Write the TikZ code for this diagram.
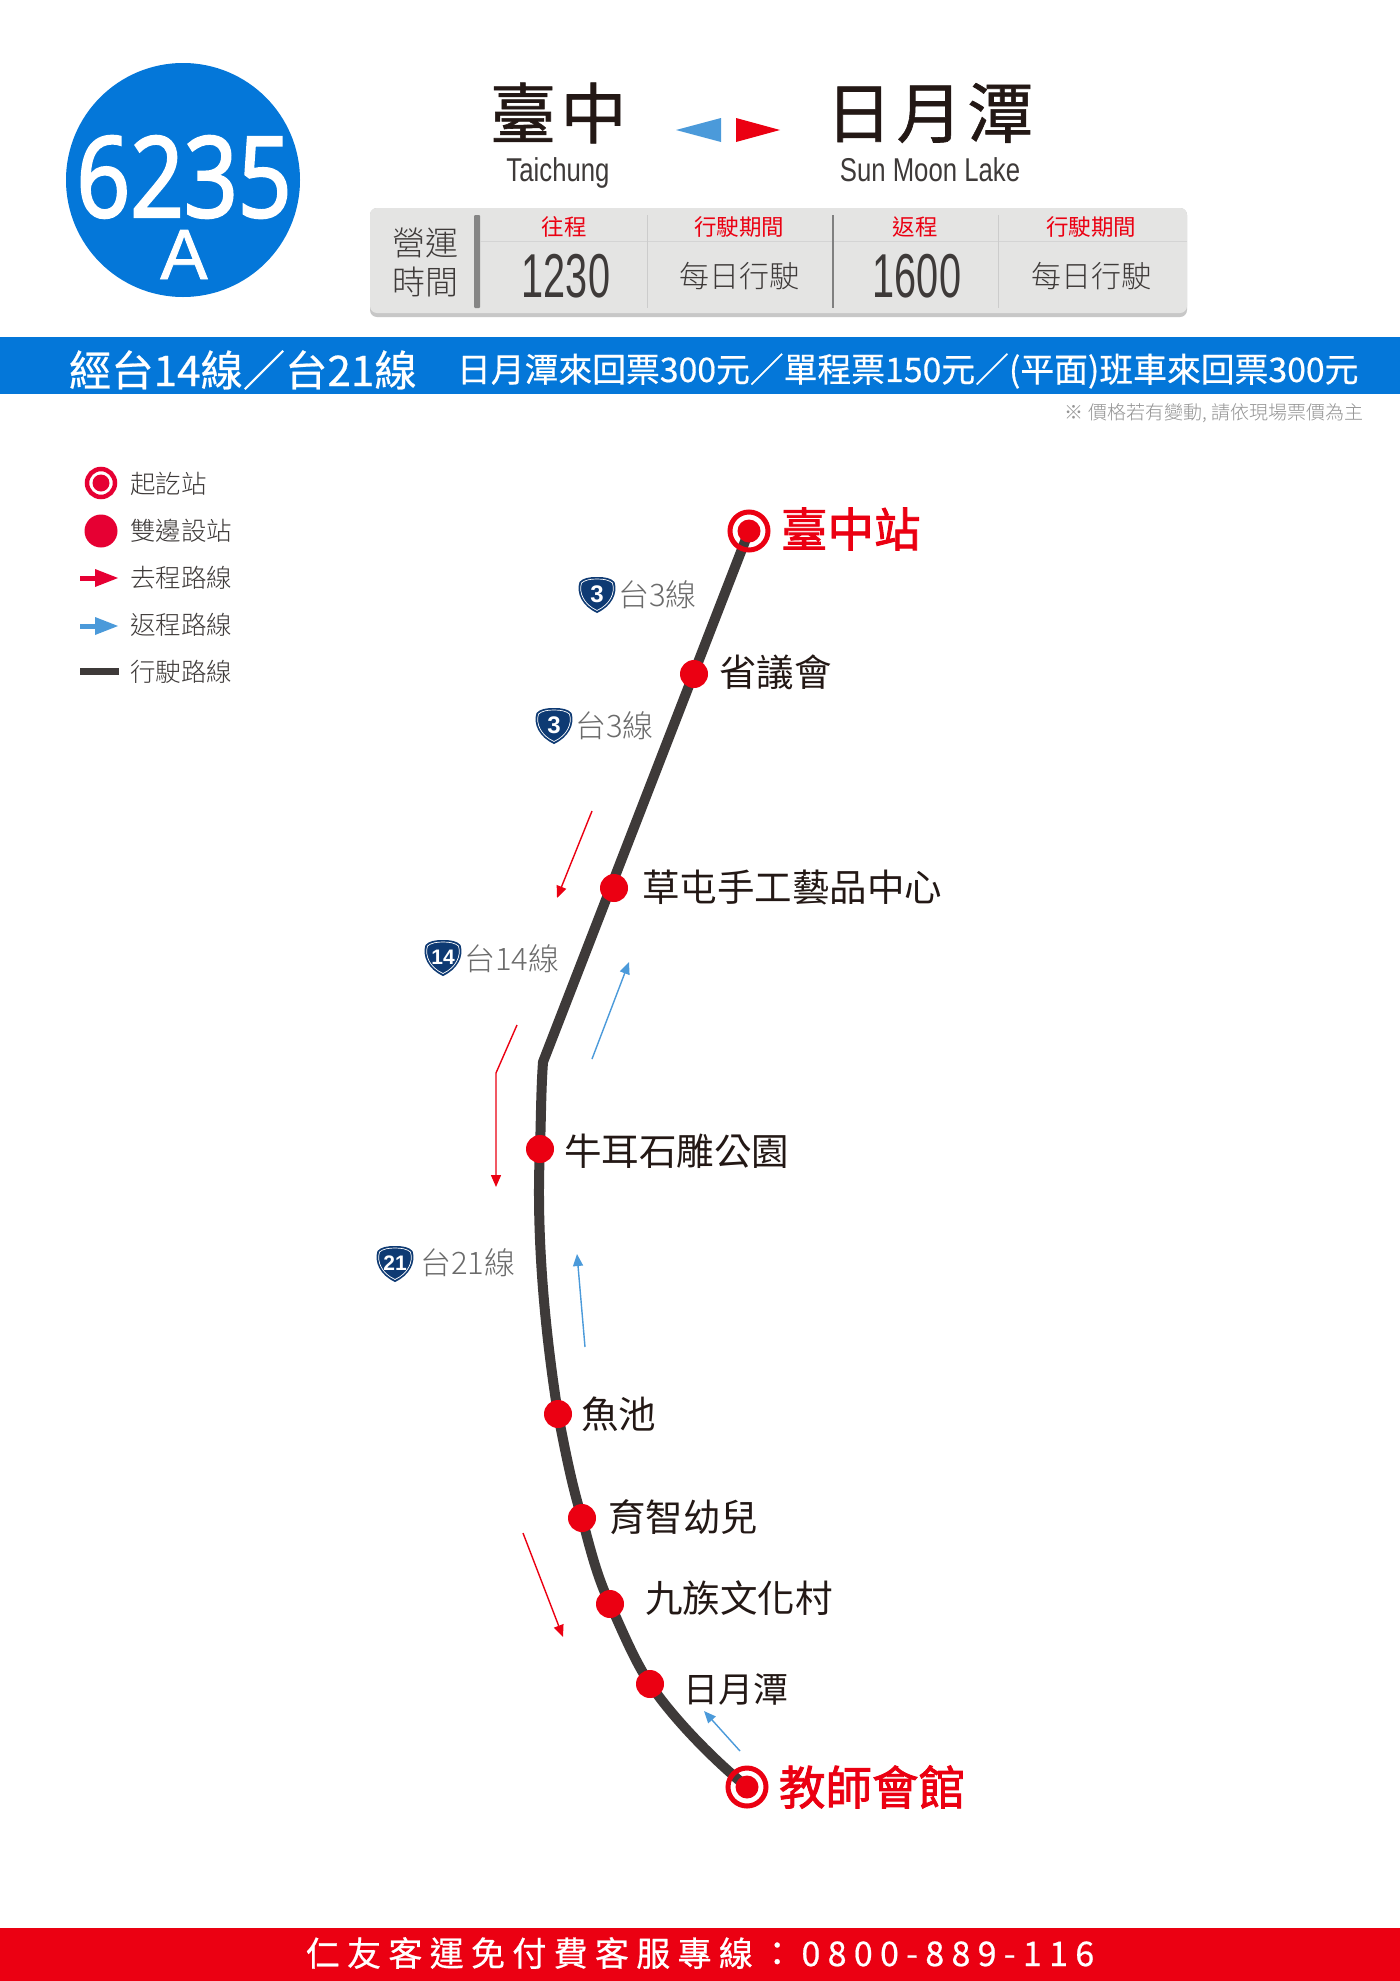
\documentclass[tikz,border=0pt]{standalone}
\usepackage{fontspec}
\usetikzlibrary{arrows.meta}
\newfontfamily\cjkfont{Noto Sans CJK TC}
\newfontfamily\cjklight[UprightFont={* Light}]{Noto Sans CJK TC}
\newfontfamily\cjkmed[FakeBold=0.5]{Noto Sans CJK TC}
\newfontfamily\cjkbold[FakeBold=1.8]{Noto Sans CJK TC}
\newfontfamily\cjkspaced[LetterSpace=7,FakeBold=0.9]{Noto Sans CJK TC}
\newfontfamily\footfont[LetterSpace=21.5,FakeBold=0.6]{Noto Sans CJK TC}
\newfontfamily\narrowfont[FakeStretch=0.78]{Liberation Sans}
\newfontfamily\timefont[FakeStretch=0.64]{Liberation Sans}
\newfontfamily\routefont[FakeStretch=0.84,FakeBold=2.2]{Open Sans}
\newfontfamily\letterfont[FakeBold=1.2]{Liberation Sans}
\newfontfamily\plainfont{Liberation Sans}
\newcommand{\sizept}[1]{\fontsize{#1}{#1}\selectfont}
\definecolor{busblue}{HTML}{0477D9}
\definecolor{stopred}{HTML}{EB0012}
\definecolor{legendred}{HTML}{E60033}
\definecolor{backblue}{HTML}{4B9ADA}
\definecolor{roaddark}{HTML}{3E3A39}
\definecolor{inktext}{HTML}{231815}
\definecolor{shieldblue}{HTML}{0E3A73}
\definecolor{panelgray}{HTML}{E4E4E3}
\tikzset{
  txt/.style={inner sep=0pt,outer sep=0pt},
  legendlabel/.style={txt,anchor=west,text=roaddark,font=\cjklight\sizept{25.5}},
  stoplabel/.style={txt,anchor=west,text=inktext,font=\cjkfont\sizept{37.5}},
  termlabel/.style={txt,anchor=west,text=stopred,font=\cjkbold\sizept{46.5}},
  roadlabel/.style={txt,anchor=west,text=black!58,font=\cjklight\sizept{31}},
  headlabel/.style={txt,text=stopred,font=\cjkfont\sizept{22.5}},
  daylabel/.style={txt,text=roaddark,font=\cjklight\sizept{30}},
  timelabel/.style={txt,text=roaddark,font=\timefont\sizept{62}},
  stopdot/.style={circle,fill=stopred,minimum size=28pt,inner sep=0pt},
  routeline/.style={draw=roaddark,line width=10pt,line join=round},
  goarrow/.style={draw=stopred,line width=1.4pt,-{Triangle[length=12pt,width=10pt]}},
  backarrow/.style={draw=backblue,line width=1.4pt,-{Triangle[length=12pt,width=10pt]}},
}
\newcommand{\roadshield}[3]{
  \begin{scope}[shift={#1}]
    \fill[shieldblue] (0,-18) .. controls (8,-18) and (14,-17) .. (17.5,-13) .. controls (21,-2) and (15,11) .. (0,18) .. controls (-15,11) and (-21,-2) .. (-17.5,-13) .. controls (-14,-17) and (-8,-18) .. (0,-18) -- cycle;
    \draw[white,line width=0.7pt] (0,-16) .. controls (7,-16) and (12,-15) .. (15.5,-12) .. controls (18.5,-2) and (13,9.5) .. (0,15.5) .. controls (-13,9.5) and (-18.5,-2) .. (-15.5,-12) .. controls (-12,-15) and (-7,-16) .. (0,-16) -- cycle;
    \node[txt,text=white,font=\plainfont\bfseries\sizept{#3}] at (0,-1) {#2};
  \end{scope}
}
\begin{document}
\begin{tikzpicture}[x=1pt,y=-1pt]
  \useasboundingbox[fill=white] (0,0) rectangle (1400,1981);

  \node[circle,fill=busblue,minimum size=234pt,inner sep=0pt] (badge) at (183,180) {};
  \node[txt,anchor=base,text=white,font=\routefont\sizept{112}] (badgeNum) at (184,217) {6235};
  \node[txt,anchor=base,text=white,font=\letterfont\sizept{71}] (badgeLetter) at (184,279) {A};

  \node[txt,anchor=west,text=inktext,font=\cjkspaced\sizept{66}] (fromName) at (490,113) {臺中};
  \node[txt,anchor=base,text=roaddark,font=\narrowfont\sizept{33}] (fromEn) at (558,181) {Taichung};
  \fill[backblue] (676,130) -- (721,118) -- (721,142) -- cycle;
  \fill[stopred] (780,130) -- (736,118) -- (736,142) -- cycle;
  \node[txt,anchor=west,text=inktext,font=\cjkspaced\sizept{66}] (toName) at (826,113) {日月潭};
  \node[txt,anchor=base,text=roaddark,font=\narrowfont\sizept{33}] (toEn) at (930,181) {Sun Moon Lake};

  \fill[black!22,rounded corners=7pt] (370,208) rectangle (1187,317);
  \fill[panelgray,rounded corners=7pt] (370,208) rectangle (1187,313);
  \fill[black!48,rounded corners=1pt] (474,215) rectangle (480,308);
  \draw[black!17,line width=1pt] (480,241) -- (1187,241);
  \draw[black!20,line width=1pt] (647,215) -- (647,308);
  \draw[black!50,line width=1.2pt] (833,215) -- (833,308);
  \draw[black!20,line width=1pt] (998,215) -- (998,308);
  \node[txt,text=roaddark,font=\cjklight\sizept{33}] (opA) at (425,243) {營運};
  \node[txt,text=roaddark,font=\cjklight\sizept{33}] (opB) at (425,282) {時間};
  \node[headlabel] (headGo) at (564,227) {往程};
  \node[headlabel] (headGoDays) at (739,227) {行駛期間};
  \node[headlabel] (headBack) at (915,227) {返程};
  \node[headlabel] (headBackDays) at (1091,227) {行駛期間};
  \node[timelabel] (timeGo) at (566,276) {1230};
  \node[daylabel] (daysGo) at (739,276) {每日行駛};
  \node[timelabel] (timeBack) at (917,276) {1600};
  \node[daylabel] (daysBack) at (1091,276) {每日行駛};

  \fill[busblue] (0,337) rectangle (1400,394);
  \node[txt,anchor=west,text=white,font=\cjkmed\sizept{42.3}] (viaText) at (69,370) {經台14線／台21線};
  \node[txt,anchor=west,text=white,font=\cjkmed\sizept{33.8}] (fareText) at (457,371) {日月潭來回票300元／單程票150元／(平面)班車來回票300元};
  \node[txt,anchor=east,text=black!42,font=\cjklight\sizept{19}] (noteText) at (1363,413) {※ 價格若有變動, 請依現場票價為主};

  \draw[legendred,line width=4.5pt,fill=white] (101,483) circle (14pt);
  \fill[legendred] (101,483) circle (8.5pt);
  \node[legendlabel] (legA) at (130,484) {起訖站};
  \fill[legendred] (101,531) circle (16.5pt);
  \node[legendlabel] (legB) at (130,531) {雙邊設站};
  \fill[legendred] (80,575.5) rectangle (96,580.5);
  \fill[legendred] (95,569) -- (118,578) -- (95,587) -- cycle;
  \node[legendlabel] (legC) at (130,578) {去程路線};
  \fill[backblue] (80,623.5) rectangle (96,628.5);
  \fill[backblue] (95,617) -- (118,626) -- (95,635) -- cycle;
  \node[legendlabel] (legD) at (130,625) {返程路線};
  \fill[roaddark] (80,667.5) rectangle (119,674.5);
  \node[legendlabel] (legE) at (130,672) {行駛路線};

  \coordinate (taichung) at (749,531);
  \coordinate (bend) at (543,1062);
  \coordinate (niuer) at (540,1149);
  \coordinate (yuchi) at (558,1414);
  \coordinate (yuzhi) at (582,1518);
  \coordinate (jiuzu) at (610,1604);
  \coordinate (riyue) at (650,1684);
  \coordinate (teachers) at (747,1787);

  \fill[white] (taichung) circle (21pt);
  \fill[white] (teachers) circle (21pt);
  \draw[routeline] (taichung) -- (bend) .. controls (541,1090) and (541,1120) .. (niuer)
    .. controls (537,1210) and (540,1300) .. (yuchi)
    .. controls (565,1450) and (572,1486) .. (yuzhi)
    .. controls (590,1548) and (597,1577) .. (jiuzu)
    .. controls (622,1630) and (634,1660) .. (riyue)
    .. controls (670,1714) and (708,1755) .. (teachers);
  \draw[stopred,line width=5pt] (taichung) circle (19pt);
  \draw[stopred,line width=5pt] (teachers) circle (19pt);
  \node[stopdot,minimum size=23pt] (taichungDot) at (taichung) {};
  \node[stopdot,minimum size=23pt] (teachersDot) at (teachers) {};
  \node[stopdot] (shengyi) at (694,674) {};
  \node[stopdot] (caotun) at (614,888) {};
  \node[stopdot] (niuerDot) at (niuer) {};
  \node[stopdot] (yuchiDot) at (yuchi) {};
  \node[stopdot] (yuzhiDot) at (yuzhi) {};
  \node[stopdot] (jiuzuDot) at (jiuzu) {};
  \node[stopdot] (riyueDot) at (riyue) {};

  \node[termlabel] (taichungName) at (781,529) {臺中站};
  \node[stoplabel] (shengyiName) at (719,672) {省議會};
  \node[stoplabel] (caotunName) at (642,888) {草屯手工藝品中心};
  \node[stoplabel] (niuerName) at (564,1151) {牛耳石雕公園};
  \node[stoplabel] (yuchiName) at (581,1414) {魚池};
  \node[stoplabel] (yuzhiName) at (608,1517) {育智幼兒};
  \node[stoplabel] (jiuzuName) at (645,1598) {九族文化村};
  \node[stoplabel,font=\cjkfont\sizept{35}] (riyueName) at (683,1689) {日月潭};
  \node[termlabel] (teachersName) at (779,1787) {教師會館};

  \roadshield{(597,595)}{3}{24}
  \node[roadlabel] (roadA) at (618,595) {台3線};
  \roadshield{(554,726)}{3}{24}
  \node[roadlabel] (roadB) at (575,726) {台3線};
  \roadshield{(443,958)}{14}{21}
  \node[roadlabel] (roadC) at (464,959) {台14線};
  \roadshield{(395,1264)}{21}{21}
  \node[roadlabel] (roadD) at (420,1263) {台21線};

  \coordinate (goA) at (592,811);
  \coordinate (goAend) at (557,898);
  \draw[goarrow] (goA) -- (goAend);
  \coordinate (goB) at (517,1025);
  \coordinate (goBmid) at (496,1073);
  \coordinate (goBend) at (496,1187);
  \draw[goarrow] (goB) -- (goBmid) -- (goBend);
  \coordinate (goC) at (523,1533);
  \coordinate (goCend) at (563,1637);
  \draw[goarrow] (goC) -- (goCend);
  \coordinate (backA) at (592,1059);
  \coordinate (backAend) at (629,962);
  \draw[backarrow] (backA) -- (backAend);
  \coordinate (backB) at (585,1347);
  \coordinate (backBend) at (577,1254);
  \draw[backarrow] (backB) -- (backBend);
  \coordinate (backC) at (740,1751);
  \coordinate (backCend) at (704,1711);
  \draw[backarrow] (backC) -- (backCend);

  \fill[stopred] (0,1928) rectangle (1400,1981);
  \node[txt,text=white,font=\footfont\sizept{34}] (hotline) at (700,1953) {仁友客運免付費客服專線：0800-889-116};
\end{tikzpicture}
\end{document}
